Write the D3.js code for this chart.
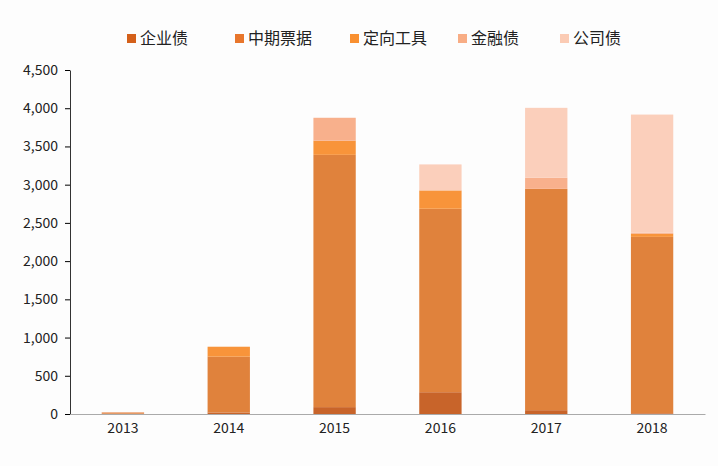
<!DOCTYPE html><html><head><meta charset="utf-8"><script src="https://cdn.jsdelivr.net/npm/d3@7"></script>
<style>body{margin:0;background:#fdfdfd}text{font-family:"Noto Sans CJK SC","DejaVu Sans",sans-serif}</style></head><body>
<svg id="c" width="718" height="466"></svg>
<script>
const years=["2013","2014","2015","2016","2017","2018"];
const seriesNames=["企业债","中期票据","定向工具","金融债","公司债"];
const qiye=[5,20,90,285,50,10];
const zhongqi=[15,730,3300,2400,2895,2307];
const dingxiang=[0,130,185,240,0,40];
const jinrong=[5,0,300,0,145,15];
const gongsi=[0,0,0,340,915,1545];
const yTicks=[0,500,1000,1500,2000,2500,3000,3500,4000,4500];
const colors=["#c8642a","#e0823c","#f8943a","#f8b08c","#fbcfbb"];
const legendColors=["#d4601a","#e8762c","#f99030","#f8ad85","#fbcbb4"];
const data=years.map((y,i)=>({year:y,"企业债":qiye[i],"中期票据":zhongqi[i],"定向工具":dingxiang[i],"金融债":jinrong[i],"公司债":gongsi[i]}));
const svg=d3.select("#c");
const x=d3.scaleBand().domain(years).range([70,705]).paddingInner(0.6).paddingOuter(0.3);
const y=d3.scaleLinear().domain([0,4500]).range([414,70]);
const stack=d3.stack().keys(seriesNames)(data);
svg.selectAll("g.s").data(stack).join("g").attr("fill",(d,i)=>colors[i])
 .selectAll("rect").data(d=>d).join("rect")
 .attr("x",d=>x(d.data.year)).attr("width",x.bandwidth())
 .attr("y",d=>y(d[1])).attr("height",d=>y(d[0])-y(d[1]));
const ya=svg.append("g").attr("transform","translate(70,0)").call(d3.axisLeft(y).tickValues(yTicks).tickSize(5).tickSizeOuter(0));
ya.selectAll("text").attr("font-size",14).attr("fill","#222").attr("dx",-4);
ya.select(".domain").attr("stroke","#333");
const xa=svg.append("g").attr("transform","translate(0,414)").call(d3.axisBottom(x).tickSize(0).tickSizeOuter(0));
xa.select(".domain").attr("stroke","#aaa");
xa.selectAll("text").attr("font-size",14).attr("fill","#222").attr("dy",16);
const lg=svg.append("g");
const lx=[127,235,350,458,560];
seriesNames.forEach((n,i)=>{
 lg.append("rect").attr("x",lx[i]).attr("y",34).attr("width",9).attr("height",9).attr("fill",legendColors[i]);
 lg.append("text").attr("x",lx[i]+13).attr("y",44).attr("font-size",16).attr("fill","#222").text(n);
});
</script></body></html>
